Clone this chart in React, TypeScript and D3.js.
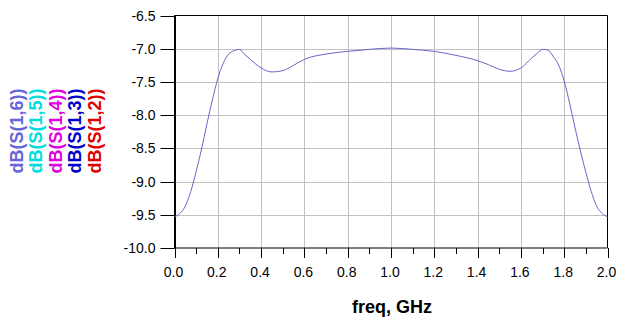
import React from "react";
import * as d3 from "d3";

const freq = [0, 0.025, 0.05, 0.075, 0.1, 0.125, 0.15, 0.175, 0.2, 0.225, 0.25, 0.275, 0.3, 0.325, 0.35, 0.4, 0.45, 0.5, 0.55, 0.6, 0.7, 0.8, 0.9, 1.0, 1.1, 1.2, 1.3, 1.4, 1.45, 1.5, 1.55, 1.6, 1.65, 1.675, 1.7, 1.725, 1.75, 1.775, 1.8, 1.825, 1.85, 1.875, 1.9, 1.925, 1.95, 1.975, 2.0];
const s16 = [-9.53, -9.48, -9.37, -9.15, -8.85, -8.51, -8.13, -7.77, -7.45, -7.22, -7.08, -7.03, -7.01, -7.09, -7.16, -7.29, -7.35, -7.33, -7.25, -7.16, -7.08, -7.04, -7.01, -6.99, -7.01, -7.04, -7.1, -7.18, -7.24, -7.31, -7.34, -7.29, -7.14, -7.07, -7.01, -7.02, -7.12, -7.25, -7.49, -7.82, -8.19, -8.54, -8.86, -9.15, -9.37, -9.48, -9.53];

const xTicks = [0, 0.2, 0.4, 0.6, 0.8, 1.0, 1.2, 1.4, 1.6, 1.8, 2.0];
const xMinorTicks = [0.1, 0.3, 0.5, 0.7, 0.9, 1.1, 1.3, 1.5, 1.7, 1.9];
const yTicks = [-6.5, -7.0, -7.5, -8.0, -8.5, -9.0, -9.5, -10.0];

const legendLabels = ["dB(S(1,6))", "dB(S(1,5))", "dB(S(1,4))", "dB(S(1,3))", "dB(S(1,2))"];
const legendColors = ["#6666D6", "#00DDDD", "#E000E0", "#0000CC", "#E00000"];

const xAxisLabel = "freq, GHz";

export default function App() {
  const left = 174.5, right = 607.5, top = 15.5, bottom = 248;
  const x = d3.scaleLinear().domain([0, 2]).range([left, right]);
  const y = d3.scaleLinear().domain([-10, -6.5]).range([bottom, top]);
  const line = d3.line<number>()
    .x((_, i) => x(freq[i]))
    .y((d) => y(d))
    .curve(d3.curveMonotoneX);
  const font = "'Liberation Sans', Arial, sans-serif";
  return (
    <svg width={623} height={324} style={{ position: "absolute", left: 0, top: 0, background: "#fff" }}>
      <rect width={623} height={324} fill="#fff" />
      {/* grid */}
      {xTicks.slice(1, -1).map((t) => (
        <line key={"gx" + t} x1={Math.round(x(t)) + 0.5} x2={Math.round(x(t)) + 0.5} y1={top} y2={bottom} stroke="#C0C0C0" strokeWidth={1} />
      ))}
      {yTicks.slice(1, -1).map((t) => (
        <line key={"gy" + t} x1={left} x2={right} y1={Math.round(y(t)) + 0.5} y2={Math.round(y(t)) + 0.5} stroke="#C0C0C0" strokeWidth={1} />
      ))}
      {/* frame */}
      <line x1={left} x2={right} y1={top} y2={top} stroke="#000" strokeWidth={1} />
      <line x1={right} x2={right} y1={top} y2={bottom} stroke="#000" strokeWidth={1} />
      <line x1={175} x2={175} y1={top - 0.5} y2={bottom + 0.5} stroke="#000" strokeWidth={2} />
      <line x1={left} x2={right} y1={bottom} y2={bottom} stroke="#000" strokeWidth={1} />
      {/* y ticks */}
      {yTicks.map((t) => (
        <g key={"yt" + t}>
          <line x1={left - 14} x2={left} y1={Math.round(y(t)) + 0.5} y2={Math.round(y(t)) + 0.5} stroke="#000" />
          <text x={155.5} y={y(t) + 5} textAnchor="end" fontFamily={font} fontSize={14} fill="#000">{t.toFixed(1)}</text>
        </g>
      ))}
      {/* x ticks */}
      {xTicks.map((t) => (
        <g key={"xt" + t}>
          <line x1={Math.round(x(t)) + 0.5} x2={Math.round(x(t)) + 0.5} y1={bottom} y2={bottom + 10} stroke="#000" />
          <text x={x(t) - 1} y={277} textAnchor="middle" fontFamily={font} fontSize={14} fill="#000">{t.toFixed(1)}</text>
        </g>
      ))}
      {xMinorTicks.map((t) => (
        <line key={"xm" + t} x1={Math.round(x(t)) + 0.5} x2={Math.round(x(t)) + 0.5} y1={bottom} y2={bottom + 6} stroke="#000" />
      ))}
      {/* data */}
      <path d={line(s16) || ""} fill="none" stroke="#6666CC" strokeWidth={1} />
      {/* x axis label */}
      <text x={392} y={313} textAnchor="middle" fontFamily={font} fontSize={18} fontWeight="bold" fill="#000">{xAxisLabel}</text>
      {/* legend */}
      {legendLabels.map((l, i) => (
        <text key={l} transform={`translate(${22.5 + i * 19.5},131) rotate(-90)`} textAnchor="middle" fontFamily={font} fontSize={18} fontWeight="bold" fill={legendColors[i]}>{l}</text>
      ))}
    </svg>
  );
}
